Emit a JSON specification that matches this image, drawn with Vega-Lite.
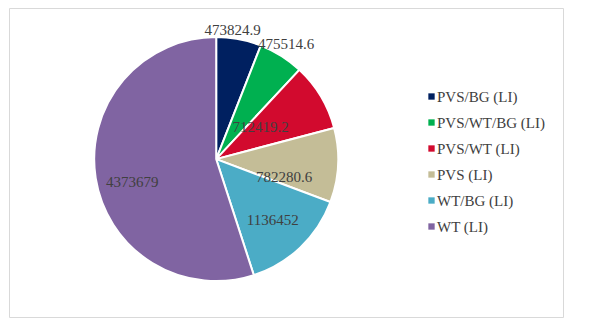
{
  "$schema": "https://vega.github.io/schema/vega-lite/v6.json",
  "width": 554,
  "height": 309,
  "padding": {"left": 9, "top": 8, "right": 30, "bottom": 13},
  "background": "white",
  "view": {"stroke": "#d9d9d9", "strokeWidth": 1},
  "config": {"view": {"stroke": "#d9d9d9", "strokeWidth": 1}, "style": {"cell": {"stroke": "#d9d9d9"}}, "font": "Liberation Serif"},
  "data": {
    "values": [
      {"idx": 1, "cat": "PVS/BG (LI)", "value": 473824.9},
      {"idx": 2, "cat": "PVS/WT/BG (LI)", "value": 475514.6},
      {"idx": 3, "cat": "PVS/WT (LI)", "value": 712419.2},
      {"idx": 4, "cat": "PVS (LI)", "value": 782280.6},
      {"idx": 5, "cat": "WT/BG (LI)", "value": 1136452},
      {"idx": 6, "cat": "WT (LI)", "value": 4373679}
    ]
  },
  "encoding": {
    "theta": {"field": "value", "type": "quantitative", "stack": true},
    "order": {"field": "idx", "type": "quantitative"}
  },
  "layer": [
    {
      "mark": {"type": "arc", "outerRadius": 122, "stroke": "white", "strokeWidth": 2, "x": {"expr": "width*0.374"}, "y": {"expr": "height*0.489"}},
      "encoding": {
        "color": {
          "field": "cat", "type": "nominal",
          "scale": {
            "domain": ["PVS/BG (LI)", "PVS/WT/BG (LI)", "PVS/WT (LI)", "PVS (LI)", "WT/BG (LI)", "WT (LI)"],
            "range": ["#002060", "#00B050", "#D20A2E", "#C4BD97", "#4BACC6", "#8064A2"]
          },
          "legend": {
            "orient": "none", "legendX": 415, "legendY": 81, "title": null, "padding": 0,
            "symbolType": "square", "symbolSize": 40, "symbolStrokeWidth": 0,
            "labelFont": "Liberation Serif", "labelFontSize": 15, "labelColor": "#404040",
            "rowPadding": 10, "labelOffset": -2
          }
        }
      }
    },
    {
      "mark": {"type": "text", "radius": 131, "dx": -8, "fontSize": 15, "fill": "#404040", "font": "Liberation Serif", "x": {"expr": "width*0.374"}, "y": {"expr": "height*0.489"}},
      "encoding": {
        "detail": {"field": "cat"},
        "text": {"condition": {"test": "datum.idx == 1", "field": "value", "type": "nominal"}, "value": ""}
      }
    },
    {
      "mark": {"type": "text", "radius": 131, "dy": -4, "fontSize": 15, "fill": "#404040", "font": "Liberation Serif", "x": {"expr": "width*0.374"}, "y": {"expr": "height*0.489"}},
      "encoding": {
        "detail": {"field": "cat"},
        "text": {"condition": {"test": "datum.idx == 2", "field": "value", "type": "nominal"}, "value": ""}
      }
    },
    {
      "mark": {"type": "text", "radius": 54, "dy": -4, "dx": -2, "fontSize": 15, "fill": "#404040", "font": "Liberation Serif", "x": {"expr": "width*0.374"}, "y": {"expr": "height*0.489"}},
      "encoding": {
        "detail": {"field": "cat"},
        "text": {"condition": {"test": "datum.idx == 3", "field": "value", "type": "nominal"}, "value": ""}
      }
    },
    {
      "mark": {"type": "text", "radius": 68, "dy": 14, "fontSize": 15, "fill": "#404040", "font": "Liberation Serif", "x": {"expr": "width*0.374"}, "y": {"expr": "height*0.489"}},
      "encoding": {
        "detail": {"field": "cat"},
        "text": {"condition": {"test": "datum.idx == 4", "field": "value", "type": "nominal"}, "value": ""}
      }
    },
    {
      "mark": {"type": "text", "radius": 82, "dy": 2, "fontSize": 15, "fill": "#404040", "font": "Liberation Serif", "x": {"expr": "width*0.374"}, "y": {"expr": "height*0.489"}},
      "encoding": {
        "detail": {"field": "cat"},
        "text": {"condition": {"test": "datum.idx == 5", "field": "value", "type": "nominal"}, "value": ""}
      }
    },
    {
      "mark": {"type": "text", "radius": 85, "dy": 10, "fontSize": 15, "fill": "#404040", "font": "Liberation Serif", "x": {"expr": "width*0.374"}, "y": {"expr": "height*0.489"}},
      "encoding": {
        "detail": {"field": "cat"},
        "text": {"condition": {"test": "datum.idx == 6", "field": "value", "type": "nominal"}, "value": ""}
      }
    }
  ]
}
